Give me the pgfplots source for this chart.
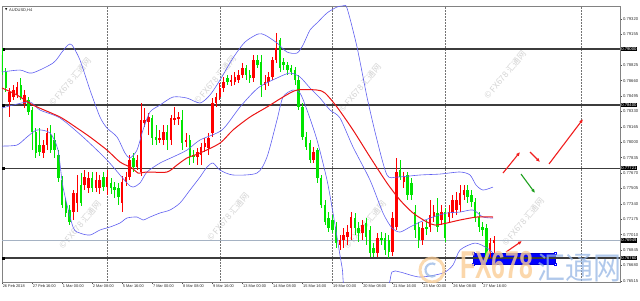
\documentclass[border=0pt]{standalone}
\usepackage{fontspec}
\setmainfont{Liberation Sans}
\newfontfamily\cjk{Noto Sans CJK SC}
\newfontfamily\dejavu{DejaVu Sans}
\usepackage{pgfplots}
\pgfplotsset{compat=1.18}
\usepackage{pgfplotstable}
\usetikzlibrary{arrows.meta}

\definecolor{bullC}{RGB}{255,0,0}
\definecolor{bearC}{RGB}{0,228,0}
\definecolor{bandC}{RGB}{95,95,240}
\definecolor{maC}{RGB}{235,20,20}
\definecolor{lvlC}{RGB}{60,60,60}
\definecolor{bidC}{RGB}{165,178,195}
\definecolor{frameC}{RGB}{130,130,130}
\definecolor{wmOr}{RGB}{250,205,150}
\definecolor{wmBl}{RGB}{150,182,228}
\definecolor{arrR}{RGB}{240,30,30}
\definecolor{arrG}{RGB}{30,160,30}

% candles: x o h l c  (up candles, red)
\pgfplotstableread{
x o h l c
9.5 .78431 .78581 .78270 .78538
13.3 .78484 .78613 .78452 .78559
17.0 .78506 .78645 .78473 .78591
24.5 .78409 .78559 .78366 .78506
43.3 .77884 .78024 .77831 .77970
47.1 .77970 .78152 .77916 .78099
73.3 .77252 .77488 .77167 .77456
77.1 .77349 .77649 .77252 .77456
84.6 .77542 .77702 .77488 .77627
88.4 .77509 .77681 .77456 .77617
95.9 .77509 .77681 .77467 .77595
99.6 .77509 .77649 .77445 .77595
107.1 .77520 .77702 .77434 .77627
122.2 .77349 .77638 .77252 .77574
125.9 .77574 .77681 .77531 .77627
129.7 .77627 .77863 .77595 .77809
137.2 .77734 .77863 .77702 .77809
140.9 .77681 .78420 .77638 .78238
144.7 .78206 .78366 .78163 .78238
148.4 .78216 .78313 .78077 .78270
159.7 .78024 .78131 .77991 .78045
163.5 .78024 .78184 .77970 .78109
171.0 .78024 .78291 .77970 .78259
174.7 .78238 .78377 .78184 .78259
178.5 .78248 .78323 .78184 .78270
186.0 .78002 .78099 .77949 .78024
197.3 .77842 .77938 .77756 .77895
201.0 .77863 .77991 .77756 .77949
204.8 .77949 .78045 .77895 .77991
208.5 .77938 .78099 .77863 .78045
212.3 .78099 .78473 .78056 .78420
216.0 .78420 .78527 .78377 .78484
219.8 .78484 .78634 .78452 .78581
223.5 .78581 .78698 .78538 .78645
231.1 .78645 .78720 .78602 .78666
234.8 .78645 .78752 .78613 .78698
238.6 .78666 .78773 .78634 .78720
242.3 .78720 .78848 .78688 .78795
253.6 .78688 .78934 .78645 .78880
264.9 .78613 .78720 .78559 .78645
268.6 .78645 .78752 .78602 .78698
272.4 .78698 .78913 .78666 .78880
276.1 .78880 .79170 .78848 .79009
313.7 .77809 .77949 .77777 .77895
340.0 .76899 .77006 .76845 .76953
343.7 .76953 .77081 .76867 .77006
347.5 .76985 .77113 .76899 .77038
351.2 .77081 .77252 .76953 .77199
362.5 .77027 .77167 .76953 .77113
377.5 .76813 .77027 .76770 .76974
392.5 .76824 .77252 .76781 .77188
396.3 .77092 .77831 .77060 .77681
403.8 .77574 .77681 .77509 .77627
422.6 .76953 .77145 .76899 .77081
430.1 .77092 .77381 .77038 .77220
433.8 .77199 .77327 .77145 .77252
441.3 .77167 .77327 .77113 .77252
448.9 .77199 .77327 .77145 .77252
452.6 .77242 .77434 .77188 .77381
456.4 .77274 .77467 .77220 .77381
460.1 .77327 .77542 .77252 .77456
463.9 .77434 .77542 .77381 .77488
490.2 .76813 .76974 .76760 .76920
493.9 .76920 .76995 .76813 .76949
}\bull

% down candles, green
\pgfplotstableread{
x o h l c
2.0 .78934 .79009 .78720 .78752
5.8 .78752 .78795 .78538 .78581
20.8 .78613 .78688 .78452 .78473
28.3 .78452 .78484 .78291 .78323
32.0 .78345 .78377 .77916 .78109
35.8 .78109 .78152 .77831 .77884
39.6 .77970 .78152 .77852 .77895
50.8 .78077 .78184 .77884 .77916
54.6 .78024 .78099 .77831 .77916
58.3 .77863 .77916 .77574 .77617
62.1 .77595 .77638 .77295 .77327
65.8 .77349 .77402 .77199 .77242
69.6 .77274 .77327 .77113 .77145
80.9 .77542 .77670 .77317 .77349
92.1 .77617 .77681 .77467 .77509
103.4 .77627 .77681 .77477 .77520
110.9 .77563 .77617 .77445 .77509
114.7 .77520 .77574 .77402 .77488
118.4 .77509 .77563 .77327 .77413
133.4 .77831 .77884 .77681 .77734
152.2 .78259 .78291 .77970 .78045
156.0 .78056 .78184 .77970 .78024
167.2 .78109 .78184 .77916 .78024
182.2 .78238 .78345 .77916 .77991
189.8 .78024 .78077 .77756 .77842
193.5 .77863 .77916 .77777 .77842
227.3 .78688 .78720 .78613 .78645
246.1 .78795 .78827 .78666 .78720
249.8 .78720 .78773 .78634 .78688
257.3 .78880 .78934 .78795 .78827
261.1 .78859 .78934 .78484 .78613
279.9 .79095 .79116 .78752 .78795
283.6 .78859 .78902 .78773 .78827
287.4 .78827 .78859 .78720 .78773
291.1 .78795 .78827 .78720 .78752
294.9 .78773 .78805 .78613 .78666
298.6 .78666 .78720 .78345 .78377
302.4 .78377 .78420 .78024 .78056
306.2 .78056 .78109 .77916 .77949
309.9 .77991 .78024 .77777 .77809
317.4 .77916 .77938 .77563 .77617
321.2 .77617 .77649 .77295 .77327
324.9 .77327 .77381 .77113 .77145
328.7 .77188 .77252 .77038 .77081
332.4 .77167 .77220 .77027 .77060
336.2 .77092 .77145 .76867 .76920
355.0 .77188 .77242 .77006 .77081
358.7 .77081 .77145 .76931 .77027
366.2 .77135 .77188 .76899 .76985
370.0 .77060 .77102 .76770 .76813
373.7 .76867 .76920 .76770 .76813
381.3 .76974 .77038 .76899 .76953
385.0 .76974 .77027 .76792 .76845
388.8 .76953 .77006 .76760 .76824
400.0 .77702 .77809 .77595 .77627
407.5 .77649 .77681 .77381 .77434
411.3 .77563 .77617 .77381 .77434
415.1 .77252 .77327 .76974 .77060
418.8 .77092 .77145 .76867 .76953
426.3 .77092 .77167 .77006 .77070
437.6 .77242 .77402 .77038 .77092
445.1 .77252 .77295 .76931 .76974
467.6 .77488 .77542 .77349 .77413
471.4 .77434 .77488 .77306 .77359
475.1 .77359 .77402 .77145 .77199
478.9 .77199 .77252 .77038 .77092
482.6 .77092 .77145 .76995 .77060
486.4 .77081 .77124 .76717 .76770
}\bear

\pgfplotstableread{
x y
2 .78752
20 .78773
32 .78741
53 .78848
62 .78966
68 .79041
72 .79041
80 .78880
90 .78559
100 .78270
107 .78152
117 .78056
125 .77884
130 .77831
137 .77916
143 .78131
150 .78323
160 .78398
173 .78484
187 .78473
200 .78420
210 .78506
220 .78666
233 .78902
245 .79073
258 .79159
265 .79148
277 .79063
287 .78966
297 .78955
303 .79041
310 .79202
317 .79277
327 .79384
337 .79448
343 .79459
347 .79437
357 .79020
367 .78484
377 .78024
387 .77649
397 .77627
420 .77649
440 .77659
460 .77681
470 .77649
476 .77542
483 .77488
493 .77520
}\bbup

\pgfplotstableread{
x y
2 .78366
13 .78398
30 .78431
40 .78345
60 .78259
83 .78056
107 .77809
127 .77563
133 .77520
140 .77563
147 .77681
160 .77777
173 .77842
187 .77916
200 .78024
222 .78131
240 .78377
258 .78581
277 .78688
290 .78741
300 .78698
310 .78581
320 .78473
330 .78345
340 .78259
353 .77949
370 .77595
383 .77242
392 .77081
400 .77038
410 .77092
420 .77145
433 .77199
447 .77242
460 .77252
473 .77274
483 .77199
493 .77188
}\bbmid

\pgfplotstableread{
x y
2 .77959
17 .77970
27 .78056
37 .78131
50 .78099
58 .77916
63 .77520
73 .77092
80 .77027
90 .77006
100 .77060
110 .77092
120 .77135
127 .77188
137 .77199
143 .77167
150 .77199
160 .77242
170 .77274
180 .77349
190 .77488
200 .77627
207 .77734
213 .77777
220 .77702
233 .77649
257 .77670
267 .77842
277 .78238
283 .78484
293 .78559
300 .78527
307 .78345
317 .78024
327 .77595
333 .77242
342 .76665
347 .76417
385 .76417
392 .76610
400 .76610
420 .76556
443 .76599
453 .76685
460 .76845
475 .76920
487 .76867
493 .76813
}\bblow

\pgfplotstableread{
x y
2 .78581
17 .78506
33 .78398
60 .78270
77 .78152
90 .78056
107 .77916
120 .77788
132 .77724
138 .77670
147 .77681
167 .77681
177 .77756
187 .77831
200 .77884
220 .77991
233 .78131
250 .78270
267 .78377
283 .78484
297 .78559
317 .78559
325 .78527
337 .78377
353 .78131
370 .77842
387 .77563
400 .77381
413 .77242
427 .77145
435 .77113
447 .77135
460 .77167
477 .77199
493 .77199
}\ma

\newcommand\wm[2]{\node[rotate=50, text=black!17, font=\cjk\fontsize{8.5}{9}\selectfont, inner sep=0pt] at (#1pt,#2pt) {© FX678 汇通网};}

\begin{document}
\begin{tikzpicture}
\useasboundingbox (0,0) rectangle (640pt,300pt);
\begin{scope}
\clip (2pt,18pt) rectangle (620pt,294pt);
\wm{70}{218}\wm{215}{220}\wm{360}{212}\wm{505}{225}
\wm{80}{75}\wm{228}{83}\wm{365}{75}\wm{523}{78}
\end{scope}
\begin{axis}[
  at={(2pt,18pt)}, anchor=south west,
  scale only axis, width=618pt, height=276pt,
  xmin=2, xmax=620, ymin=0.76503, ymax=0.79459,
  clip mode=individual,
  axis line style={draw=frameC, line width=0.8pt},
  xtick pos=bottom, ytick pos=right,
  tick align=outside, major tick length=2pt,
  tick style={draw=black!70, line width=0.4pt},
  xtick={2,32.04,62.08,92.12,122.16,152.2,182.24,212.28,242.32,272.36,302.4,332.44,362.48,392.52,422.56,452.6,482.64},
  xticklabels={26 Feb 2018,27 Feb 16:00,1 Mar 00:00,2 Mar 08:00,5 Mar 16:00,7 Mar 00:00,8 Mar 08:00,9 Mar 16:00,13 Mar 00:00,14 Mar 08:00,15 Mar 16:00,19 Mar 00:00,20 Mar 08:00,21 Mar 16:00,23 Mar 00:00,26 Mar 08:00,27 Mar 16:00},
  xticklabel style={font=\fontsize{3.9}{4.5}\selectfont, anchor=north west, inner sep=0.6pt, text=black!85},
  ytick={0.76515,0.76680,0.76845,0.77010,0.77175,0.77340,0.77505,0.77670,0.77835,0.78000,0.78165,0.78330,0.78495,0.78660,0.78825,0.79155,0.79320},
  scaled y ticks=false,
  yticklabel style={font=\fontsize{4.2}{5}\selectfont, anchor=west, inner sep=0.8pt, text=black!80,
    /pgf/number format/fixed, /pgf/number format/fixed zerofill, /pgf/number format/precision=5,
    /pgf/number format/assume math mode=true},
]
% weekly separators
\foreach \vx in {107.1,219.8,332.4,445.1,581} {
  \edef\tmp{\noexpand\addplot[forget plot, densely dotted, draw=black!55, line width=0.5pt] coordinates {(\vx,0.76503) (\vx,0.79459)};}
  \tmp
}
% selection box
\addplot[forget plot, fill=blue, draw=blue!80!black, line width=0.4pt] coordinates {(473,0.76813) (555,0.76813) (555,0.76696) (473,0.76696)} -- cycle;
\addplot[forget plot, only marks, mark=square*, mark size=0.9pt, mark options={fill=white, draw=blue}] coordinates {(473,0.76813) (555,0.76813) (555,0.76696) (473,0.76696)};
% horizontal levels
\addplot[forget plot, draw=bidC, line width=0.6pt] coordinates {(2,0.76949) (620,0.76949)};
\addplot[forget plot, draw=lvlC, line width=1.3pt] coordinates {(2,0.79000) (620,0.79000)};
\addplot[forget plot, draw=lvlC, line width=1.3pt] coordinates {(2,0.78400) (620,0.78400)};
\addplot[forget plot, draw=lvlC, line width=1.3pt] coordinates {(2,0.77721) (620,0.77721)};
\addplot[forget plot, draw=lvlC, line width=1.3pt] coordinates {(2,0.76760) (620,0.76760)};
\addplot[forget plot, only marks, mark=square*, mark size=1.1pt, mark options={fill=black, draw=black}] coordinates {(3.5,0.79000) (3.5,0.78400) (3.5,0.77721) (3.5,0.76760)};
% candle wicks
\addplot[forget plot, draw=none, mark=none, error bars/.cd, y dir=both, y explicit, error mark=none,
  error bar style={draw=bullC, line width=0.7pt}]
  table[x=x, y expr={0.5*(\thisrow{h}+\thisrow{l})}, y error expr={0.5*(\thisrow{h}-\thisrow{l})}] {\bull};
\addplot[forget plot, draw=none, mark=none, error bars/.cd, y dir=both, y explicit, error mark=none,
  error bar style={draw=bearC, line width=0.7pt}]
  table[x=x, y expr={0.5*(\thisrow{h}+\thisrow{l})}, y error expr={0.5*(\thisrow{h}-\thisrow{l})}] {\bear};
% candle bodies
\addplot[forget plot, draw=none, mark=none, error bars/.cd, y dir=both, y explicit, error mark=none,
  error bar style={draw=bullC, line width=2.5pt}]
  table[x=x, y expr={0.5*(\thisrow{o}+\thisrow{c})}, y error expr={0.5*(\thisrow{c}-\thisrow{o})}] {\bull};
\addplot[forget plot, draw=none, mark=none, error bars/.cd, y dir=both, y explicit, error mark=none,
  error bar style={draw=bearC, line width=2.5pt}]
  table[x=x, y expr={0.5*(\thisrow{o}+\thisrow{c})}, y error expr={0.5*(\thisrow{o}-\thisrow{c})}] {\bear};
% indicators
\addplot[forget plot, draw=bandC, line width=0.6pt, smooth, tension=0.45] table[x=x,y=y] {\bbup};
\addplot[forget plot, draw=bandC, line width=0.6pt, smooth, tension=0.45] table[x=x,y=y] {\bbmid};
\addplot[forget plot, draw=bandC, line width=0.6pt, smooth, tension=0.45] table[x=x,y=y] {\bblow};
\addplot[forget plot, draw=maC, line width=1.0pt, smooth, tension=0.45] table[x=x,y=y] {\ma};
% arrows
\addplot[forget plot, draw=arrR, line width=1.1pt, -{Latex[length=4pt,width=3.6pt]}] coordinates {(503,0.77670) (520,0.77895)};
\addplot[forget plot, draw=arrR, line width=1.1pt, -{Latex[length=4pt,width=3.6pt]}] coordinates {(530,0.77895) (540,0.77788)};
\addplot[forget plot, draw=arrR, line width=1.1pt, -{Latex[length=4pt,width=3.6pt]}] coordinates {(549,0.77767) (583,0.78248)};
\addplot[forget plot, draw=arrG, line width=1.1pt, -{Latex[length=4pt,width=3.6pt]}] coordinates {(521,0.77659) (535,0.77456)};
\addplot[forget plot, draw=arrR, line width=1.1pt, -{Latex[length=4pt,width=3.6pt]}] coordinates {(506,0.76824) (522,0.76942)};
% title
\node[anchor=west, inner sep=0pt, font=\dejavu\fontsize{3}{3}\selectfont] at (axis cs:5,0.79416) {▼};
\node[anchor=west, inner sep=0pt, font=\fontsize{4}{5}\selectfont, text=black!85] at (axis cs:9,0.79416) {AUDUSD,H4};
% level price labels
\foreach \lv/\lt in {0.79000/0.79000,0.78400/0.78400,0.77721/0.77721,0.76949/0.76949,0.76760/0.76760} {
  \edef\tmp{\noexpand\node[anchor=west, fill=black, text=white, inner sep=0.7pt, font=\noexpand\fontsize{4.2}{5}\noexpand\selectfont] at (axis cs:620.4,\lv) {\lt};}
  \tmp
}
\end{axis}
\begin{scope}
\clip (2pt,18pt) rectangle (620pt,294pt);
\draw[wmOr, line width=3pt, opacity=0.75] (432pt,30pt) circle (12pt);
\draw[wmBl, line width=2.2pt, opacity=0.75] (432pt,30pt) ++(60:6.5pt) arc (60:300:6.5pt);
\node[anchor=base west, inner sep=0pt, text=wmOr, opacity=0.8, font=\bfseries\fontsize{36}{36}\selectfont, xscale=0.69, yscale=1.08] at (460pt,22pt) {FX678};
\node[anchor=base west, inner sep=0pt, text=wmBl, opacity=0.75, font=\cjk\fontsize{28}{28}\selectfont, yscale=1.12] at (537pt,21pt) {汇通网};
\end{scope}
\end{tikzpicture}
\end{document}
